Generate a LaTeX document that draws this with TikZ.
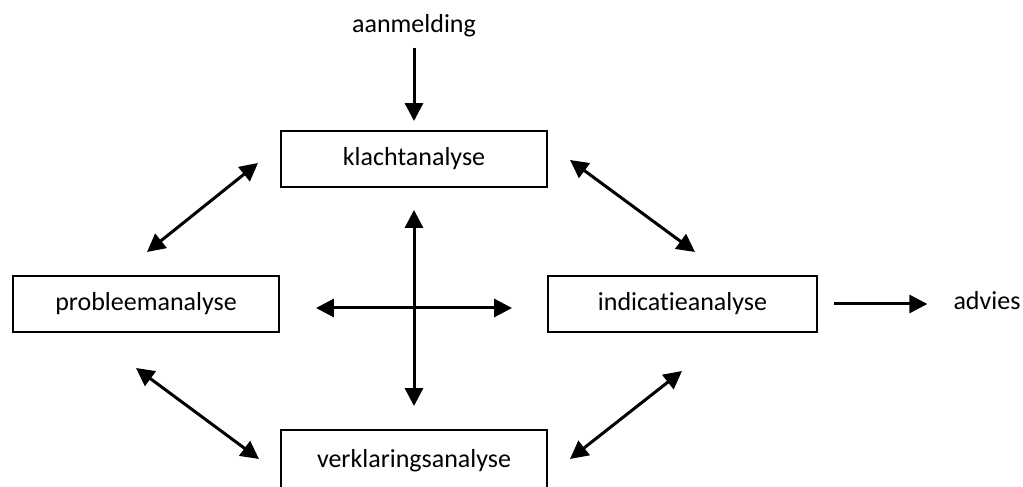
\documentclass[tikz,border=0pt]{standalone}
\usepackage{fontspec}
\setmainfont{Carlito}[Ligatures=NoCommon]
\usetikzlibrary{arrows.meta}

\tikzset{
    vak/.style={draw, line width=1.9pt, minimum width=266pt, minimum height=56pt,
        inner sep=0pt, font=\fontsize{26}{31}\selectfont},
    tekst/.style={inner sep=0pt, anchor=base, font=\fontsize{26}{31}\selectfont},
    pijl/.style={line width=3pt, -{Triangle[length=18pt,width=18pt]}},
    dubbelpijl/.style={line width=3pt,
        {Triangle[length=18pt,width=18pt]}-{Triangle[length=18pt,width=18pt]}},
}

\begin{document}
\begin{tikzpicture}[x=1pt, y=1pt]

    \useasboundingbox (0,0) rectangle (1023,487);

    % 1. De vier analyses
    \node[vak] (klacht) at (414,328) {klachtanalyse};
    \node[vak] (probleem) at (146,183) {probleemanalyse};
    \node[vak, minimum width=269pt] (indicatie) at (682.5,183) {indicatieanalyse};
    \node[vak, minimum height=62pt] (verklaring) at (414,26) {verklaringsanalyse};

    % 2. Begin en einde
    \node[tekst] (aanmelding) at (414,454) {aanmelding};
    \node[tekst] (advies) at (987,177) {advies};

    % 3. Pijlen in en uit
    \draw[pijl, shorten <=10pt, shorten >=9pt] (aanmelding) -- (klacht);
    \draw[pijl, shorten <=16pt, shorten >=26pt]
        (indicatie.east) -- (indicatie.east -| advies.west);

    % 4. Het kruis in het midden
    \draw[dubbelpijl, shorten <=22pt, shorten >=23pt] (klacht) -- (verklaring);
    \draw[dubbelpijl, shorten <=36pt, shorten >=35pt]
        ([yshift=-4pt]probleem.east) -- ([yshift=-4pt]indicatie.west);

    % 5. Schuine pijlen tussen de analyses
    \coordinate (pk1) at (147,235);  \coordinate (pk2) at (258,324);
    \coordinate (ki1) at (570,327);  \coordinate (ki2) at (695,235);
    \coordinate (pv1) at (136,119);  \coordinate (pv2) at (259,28);
    \coordinate (iv1) at (682,116);  \coordinate (iv2) at (570,28);
    \draw[dubbelpijl] (pk1) -- (pk2);
    \draw[dubbelpijl] (ki1) -- (ki2);
    \draw[dubbelpijl] (pv1) -- (pv2);
    \draw[dubbelpijl] (iv1) -- (iv2);

\end{tikzpicture}
\end{document}
